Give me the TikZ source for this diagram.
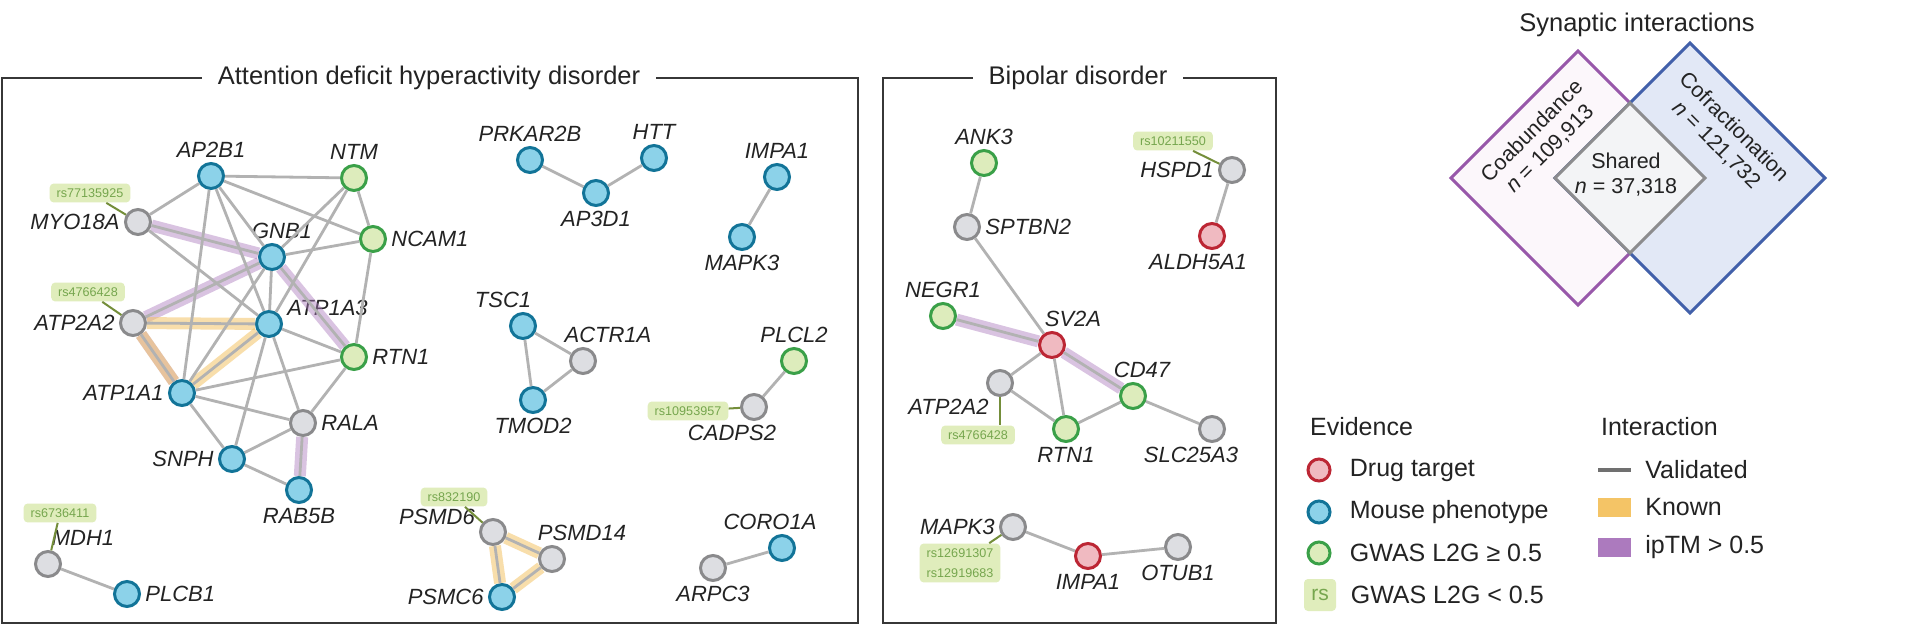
\documentclass[tikz,border=0pt]{standalone}
\usepackage{fontspec}
\setmainfont{Liberation Sans}
\usepackage{tikz}
\usetikzlibrary{positioning,shapes}
\usepackage{xcolor}
\definecolor{txt}{RGB}{35,35,35}
\definecolor{framegray}{RGB}{55,55,55}
\definecolor{mousefill}{RGB}{140,210,233}
\definecolor{mouseline}{RGB}{18,116,152}
\definecolor{gwasfill}{RGB}{221,236,188}
\definecolor{gwasline}{RGB}{58,160,72}
\definecolor{plainfill}{RGB}{221,222,226}
\definecolor{plainline}{RGB}{138,138,140}
\definecolor{drugfill}{RGB}{240,186,193}
\definecolor{drugline}{RGB}{188,38,52}
\definecolor{edgegray}{RGB}{178,178,178}
\definecolor{validgray}{RGB}{112,112,112}
\definecolor{knownyellow}{RGB}{244,196,102}
\definecolor{iptmpurple}{RGB}{172,122,190}
\definecolor{rsfill}{RGB}{224,237,188}
\definecolor{rstext}{RGB}{118,166,78}
\definecolor{rsline}{RGB}{116,142,58}
\definecolor{coabline}{RGB}{152,88,170}
\definecolor{coabfill}{RGB}{252,247,251}
\definecolor{cofrline}{RGB}{66,96,170}
\definecolor{cofrfill}{RGB}{226,232,246}
\definecolor{sharedline}{RGB}{140,140,142}
\definecolor{sharedfill}{RGB}{243,244,246}
\newcommand{\genefont}{\fontsize{11}{13}\selectfont\itshape}
\newcommand{\titlefont}{\fontsize{12.75}{15}\selectfont\upshape}
\newcommand{\legfont}{\fontsize{12.5}{15}\selectfont\upshape}
\newcommand{\rsfont}{\fontsize{6.3}{10}\selectfont\upshape}
\newcommand{\vennfont}{\fontsize{10.75}{12.5}\selectfont\upshape}
\tikzstyle{gene} = [circle, minimum size=12.5pt, inner sep=0pt, line width=1.5pt]
\tikzstyle{mouse} = [gene, draw=mouseline, fill=mousefill]
\tikzstyle{gwas} = [gene, draw=gwasline, fill=gwasfill]
\tikzstyle{plain} = [gene, draw=plainline, fill=plainfill]
\tikzstyle{drug} = [gene, draw=drugline, fill=drugfill]
\tikzstyle{every label} = [font=\genefont, text=txt, inner sep=2pt]
\tikzstyle{validated} = [draw=edgegray, line width=1.4pt]
\tikzstyle{known} = [draw=knownyellow, line width=6pt, opacity=0.55]
\tikzstyle{iptm} = [draw=iptmpurple, line width=6pt, opacity=0.45]
\tikzstyle{rsbox} = [fill=rsfill, text=rstext, font=\rsfont, rounded corners=2pt, inner xsep=3.5pt, inner ysep=2.5pt]
\tikzstyle{rslink} = [draw=rsline, line width=1pt]
\tikzstyle{panel} = [draw=framegray, line width=1pt]
\tikzstyle{paneltitle} = [fill=white, text=txt, font=\titlefont, inner xsep=8pt, inner ysep=2pt]
\tikzstyle{legtext} = [font=\legfont, text=txt]
\tikzstyle{vtext} = [font=\vennfont, text=txt, inner sep=0pt, align=center]

\begin{document}
\begin{tikzpicture}[x=0.5pt, y=-0.5pt]
\useasboundingbox (0,0) rectangle (1920,626);
\fill[white] (0,0) rectangle (1920,626);

% Panels
\draw[panel] (2,78) rectangle (858,623);
\node[paneltitle] (adhdtitle) at (429,78) {Attention deficit hyperactivity disorder};
\draw[panel] (883,78) rectangle (1276,623);
\node[paneltitle] (bdtitle) at (1078,78) {Bipolar disorder};

% ADHD genes
\node[mouse, label=above:AP2B1] (ap2b1) at (211,176) {};
\node[gwas, label=above:NTM] (ntm) at (354,178) {};
\node[plain, label=left:MYO18A] (myo18a) at (138,222) {};
\node[mouse, label={[xshift=5pt]above:GNB1}] (gnb1) at (272,257) {};
\node[gwas, label=right:NCAM1] (ncam1) at (373,239) {};
\node[plain, label=left:ATP2A2] (atp2a2) at (133,323) {};
\node[mouse, label={[yshift=8pt]right:ATP1A3}] (atp1a3) at (269,324) {};
\node[gwas, label=right:RTN1] (rtn1) at (354,357) {};
\node[mouse, label=left:ATP1A1] (atp1a1) at (182,393) {};
\node[plain, label=right:RALA] (rala) at (303,423) {};
\node[mouse, label=left:SNPH] (snph) at (232,459) {};
\node[mouse, label=below:RAB5B] (rab5b) at (299,490) {};
\node[plain, label={[xshift=17.5pt]above:MDH1}] (mdh1) at (48,564) {};
\node[mouse, label=right:PLCB1] (plcb1) at (127,594) {};

\node[mouse, label=above:PRKAR2B] (prkar2b) at (530,160) {};
\node[mouse, label=above:HTT] (htt) at (654,158) {};
\node[mouse, label=below:AP3D1] (ap3d1) at (596,193) {};
\node[mouse, label=above:IMPA1] (impa1) at (777,177) {};
\node[mouse, label=below:MAPK3] (mapk3) at (742,237) {};
\node[mouse, label={[xshift=-10pt]above:TSC1}] (tsc1) at (523,326) {};
\node[plain, label={[xshift=12.5pt]above:ACTR1A}] (actr1a) at (583,361) {};
\node[mouse, label=below:TMOD2] (tmod2) at (533,400) {};
\node[gwas, label=above:PLCL2] (plcl2) at (794,361) {};
\node[plain, label={[xshift=-11pt]below:CADPS2}] (cadps2) at (754,407) {};
\node[plain, label=170:PSMD6] (psmd6) at (493,532) {};
\node[plain, label={[xshift=15pt]above:PSMD14}] (psmd14) at (552,559) {};
\node[mouse, label=left:PSMC6] (psmc6) at (502,597) {};
\node[mouse, label={[xshift=-6pt]above:CORO1A}] (coro1a) at (782,548) {};
\node[plain, label=below:ARPC3] (arpc3) at (713,568) {};

% Bipolar genes
\node[gwas, label=above:ANK3] (bdank3) at (984,163) {};
\node[plain, label=right:SPTBN2] (bdsptbn2) at (967,227) {};
\node[plain, label=left:HSPD1] (bdhspd1) at (1232,170) {};
\node[drug, label={[xshift=-7pt]below:ALDH5A1}] (bdaldh5a1) at (1212,236) {};
\node[gwas, label=above:NEGR1] (bdnegr1) at (943,316) {};
\node[drug, label={[xshift=10.5pt]above:SV2A}] (bdsv2a) at (1052,345) {};
\node[gwas, label={[xshift=4.5pt]above:CD47}] (bdcd47) at (1133,396) {};
\node[plain, label={[anchor=north east]-120:ATP2A2}] (bdatp2a2) at (1000,383) {};
\node[gwas, label=below:RTN1] (bdrtn1) at (1066,429) {};
\node[plain, label={[xshift=-10.5pt]below:SLC25A3}] (bdslc25a3) at (1212,429) {};
\node[plain, label=left:MAPK3] (bdmapk3) at (1013,527) {};
\node[drug, label=below:IMPA1] (bdimpa1) at (1088,556) {};
\node[plain, label=below:OTUB1] (bdotub1) at (1178,547) {};

% Variants
\node[rsbox] (rsmyo18a) at (90,193) {rs77135925};
\node[rsbox] (rsatp2a2) at (88,292) {rs4766428};
\node[rsbox] (rsmdh1) at (60,513) {rs6736411};
\node[rsbox] (rspsmd6) at (454,497) {rs832190};
\node[rsbox] (rscadps2) at (688,411) {rs10953957};
\node[rsbox] (rsbdhspd1) at (1173,141) {rs10211550};
\node[rsbox] (rsbdatp2a2) at (978,435) {rs4766428};
\node[rsbox, align=center] (rsbdmapk3) at (960,563) {rs12691307\\rs12919683};
\draw[rslink] (myo18a) -- (rsmyo18a);
\draw[rslink] (atp2a2) -- (rsatp2a2);
\draw[rslink] (mdh1) -- (rsmdh1);
\draw[rslink] (psmd6) -- (rspsmd6);
\draw[rslink] (cadps2) -- (rscadps2);
\draw[rslink] (bdhspd1) -- (rsbdhspd1);
\draw[rslink] (bdatp2a2) -- (rsbdatp2a2.north -| bdatp2a2);
\draw[rslink] (bdmapk3) -- (rsbdmapk3);

% Known and ipTM bands
\draw[iptm] (myo18a) -- (gnb1);
\draw[iptm] (gnb1) -- (rtn1);
\draw[iptm] (gnb1) -- (atp2a2);
\draw[iptm] (atp2a2) -- (atp1a1);
\draw[iptm] (rala) -- (rab5b);
\draw[known] (atp2a2) -- (atp1a3);
\draw[known] (atp2a2) -- (atp1a1);
\draw[known] (atp1a3) -- (atp1a1);
\draw[known] (psmd6) -- (psmd14);
\draw[known] (psmd6) -- (psmc6);
\draw[known] (psmd14) -- (psmc6);
\draw[iptm] (bdnegr1) -- (bdsv2a);
\draw[iptm] (bdsv2a) -- (bdcd47);

% Validated interactions
\draw[validated] (ap2b1) -- (ntm) (ap2b1) -- (myo18a) (ap2b1) -- (ncam1) (ap2b1) -- (gnb1) (ap2b1) -- (atp1a3) (ap2b1) -- (atp1a1);
\draw[validated] (ntm) -- (gnb1) (ntm) -- (ncam1) (ntm) -- (atp1a3);
\draw[validated] (myo18a) -- (gnb1) (myo18a) -- (atp1a3);
\draw[validated] (gnb1) -- (ncam1) (gnb1) -- (atp1a3) (gnb1) -- (atp2a2) (gnb1) -- (rtn1) (gnb1) -- (atp1a1);
\draw[validated] (atp2a2) -- (atp1a3) (atp2a2) -- (atp1a1);
\draw[validated] (atp1a3) -- (atp1a1) (atp1a3) -- (rtn1) (atp1a3) -- (rala) (atp1a3) -- (snph);
\draw[validated] (ncam1) -- (rtn1);
\draw[validated] (atp1a1) -- (rtn1) (atp1a1) -- (rala) (atp1a1) -- (snph);
\draw[validated] (rala) -- (rtn1) (rala) -- (snph) (rala) -- (rab5b) (snph) -- (rab5b);
\draw[validated] (mdh1) -- (plcb1);
\draw[validated] (prkar2b) -- (ap3d1) (htt) -- (ap3d1) (impa1) -- (mapk3);
\draw[validated] (tsc1) -- (actr1a) (tsc1) -- (tmod2) (actr1a) -- (tmod2) (plcl2) -- (cadps2);
\draw[validated] (psmd6) -- (psmd14) (psmd6) -- (psmc6) (psmd14) -- (psmc6) (coro1a) -- (arpc3);
\draw[validated] (bdank3) -- (bdsptbn2) (bdsptbn2) -- (bdsv2a) (bdnegr1) -- (bdsv2a) (bdsv2a) -- (bdcd47);
\draw[validated] (bdsv2a) -- (bdatp2a2) (bdsv2a) -- (bdrtn1) (bdatp2a2) -- (bdrtn1) (bdrtn1) -- (bdcd47);
\draw[validated] (bdcd47) -- (bdslc25a3) (bdhspd1) -- (bdaldh5a1);
\draw[validated] (bdmapk3) -- (bdimpa1) (bdimpa1) -- (bdotub1);

% Venn diagram
\node[paneltitle] (syntitle) at (1637,25) {Synaptic interactions};
\filldraw[draw=coabline, fill=coabfill, line width=1.5pt] (1578,51) -- (1705,178) -- (1578,305) -- (1451,178) -- cycle;
\filldraw[draw=cofrline, fill=cofrfill, line width=1.5pt] (1690,43) -- (1825,178) -- (1690,313) -- (1555,178) -- cycle;
\filldraw[draw=sharedline, fill=sharedfill, line width=1.5pt] (1630,103) -- (1705,178) -- (1630,253) -- (1555,178) -- cycle;
\node[vtext, rotate=45] (coab) at (1541,140) {Coabundance\\\textit{n} = 109,913};
\node[vtext, rotate=-45] (cofr) at (1725,136) {Cofractionation\\\textit{n} = 121,732};
\node[vtext] (shared) at (1626,175) {Shared\\\textit{n} = 37,318};

% Legend
\node[legtext, anchor=west] (evidence) at (1303,427) {Evidence};
\node[drug, minimum size=11pt, label={[legtext, xshift=7pt]right:Drug target}] (legdrug) at (1319,470) {};
\node[mouse, minimum size=11pt, label={[legtext, xshift=7pt]right:Mouse phenotype}] (legmouse) at (1319,512) {};
\node[gwas, minimum size=11pt, label={[legtext, xshift=7pt]right:GWAS L2G ≥ 0.5}] (leggwas) at (1319,553) {};
\node[rsbox, minimum size=16pt, inner sep=0pt, font=\fontsize{10.5}{12}\selectfont, label={[legtext, xshift=5pt]right:GWAS L2G < 0.5}] (legrs) at (1320,595) {rs};
\node[legtext, anchor=west] (interaction) at (1594,427) {Interaction};
\node[fill=validgray, minimum width=16.5pt, minimum height=2pt, inner sep=0pt, label={[legtext, xshift=5pt]right:Validated}] (legvalid) at (1614,470) {};
\node[fill=knownyellow, minimum width=16.5pt, minimum height=9.5pt, inner sep=0pt, label={[legtext, xshift=5pt]right:Known}] (legknown) at (1614,507) {};
\node[fill=iptmpurple, minimum width=16.5pt, minimum height=9.5pt, inner sep=0pt, label={[legtext, xshift=5pt]right:ipTM > 0.5}] (legiptm) at (1614,547) {};
\end{tikzpicture}
\end{document}
